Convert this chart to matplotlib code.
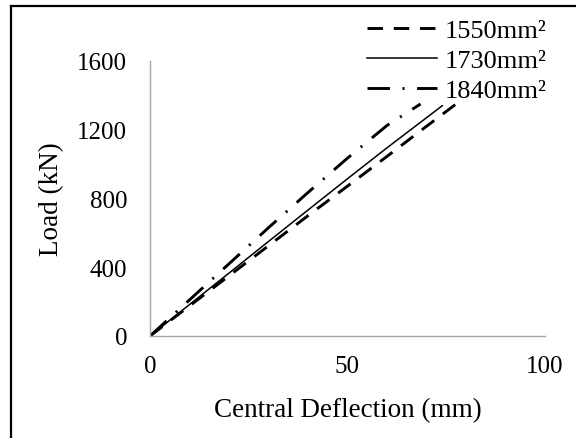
import matplotlib
matplotlib.use("Agg")
import matplotlib.pyplot as plt
from matplotlib.lines import Line2D

# Data
defl_1550 = [0, 10, 20, 30, 40, 50, 60, 70, 77.5]
load_1550 = [0, 175, 350, 525, 700, 872, 1045, 1220, 1350]

defl_1730 = [0, 10, 20, 30, 40, 50, 60, 70, 74]
load_1730 = [0, 183, 366, 550, 733, 915, 1095, 1270, 1340]

defl_1840 = [0, 10, 20, 30, 40, 50, 60, 68.5]
load_1840 = [0, 210, 420, 630, 835, 1035, 1225, 1350]

labels = ["1550mm²", "1730mm²", "1840mm²"]
xticks = [0, 50, 100]
yticks = [0, 400, 800, 1200, 1600]

plt.rcParams['font.family'] = ['Liberation Serif', 'DejaVu Serif']
FS_TICK = 18
FS_TITLE = 19.5
FS_LEG = 19

W, H = 576, 439
fig = plt.figure(figsize=(W / 100, H / 100), dpi=100)
ax = fig.add_axes([150 / W, 1 - 337 / H, (545 - 150) / W, (337 - 62) / H])

ax.plot(defl_1550, load_1550, color='black', lw=2.1, linestyle=(0, (5.3, 3.7)),
        dash_capstyle='butt', label=labels[0])
ax.plot(defl_1730, load_1730, color='black', lw=1.1, linestyle='-', label=labels[1])
ax.plot(defl_1840, load_1840, color='black', lw=2.1, linestyle=(0, (7.7, 4.3, 0.7, 4.3)),
        dash_capstyle='butt', label=labels[2])

ax.set_xlim(0, 100)
ax.set_ylim(0, 1600)
ax.set_xticks(xticks)
ax.set_yticks(yticks)
ax.tick_params(length=0, labelsize=FS_TICK, colors='black')
ax.tick_params(axis='y', pad=16.5)
ax.tick_params(axis='x', pad=14)

for s in ['top', 'right']:
    ax.spines[s].set_visible(False)
for s in ['left', 'bottom']:
    ax.spines[s].set_color('#a6a6a6')
    ax.spines[s].set_linewidth(1.0)

ax.set_xlabel("Central Deflection (mm)", fontsize=FS_TITLE)
ax.set_ylabel("Load (kN)", fontsize=FS_TITLE)
ax.xaxis.set_label_coords(0.5, (337 - 411) / 275)
ax.xaxis.label.set_va('center')
ax.yaxis.set_label_coords((52 - 150) / 395, 0.5)
ax.yaxis.label.set_va('center')
ax.yaxis.label.set_ha('center')

leg = ax.legend(loc='upper left', bbox_to_anchor=(367 / W, 1 - 20 / H),
                bbox_transform=fig.transFigure, frameon=False, fontsize=FS_LEG,
                handlelength=2.65, handletextpad=0.3, labelspacing=0.24,
                borderaxespad=0, borderpad=0)

# outer frame (left and top edges visible)
fig.add_artist(Line2D([11 / W, 11 / W], [0, 1 - 7 / H], color='black', lw=1.6,
                      transform=fig.transFigure))
fig.add_artist(Line2D([11 / W, 1], [1 - 7 / H, 1 - 7 / H], color='black', lw=1.6,
                      transform=fig.transFigure))

fig.savefig("out.png", dpi=100)
